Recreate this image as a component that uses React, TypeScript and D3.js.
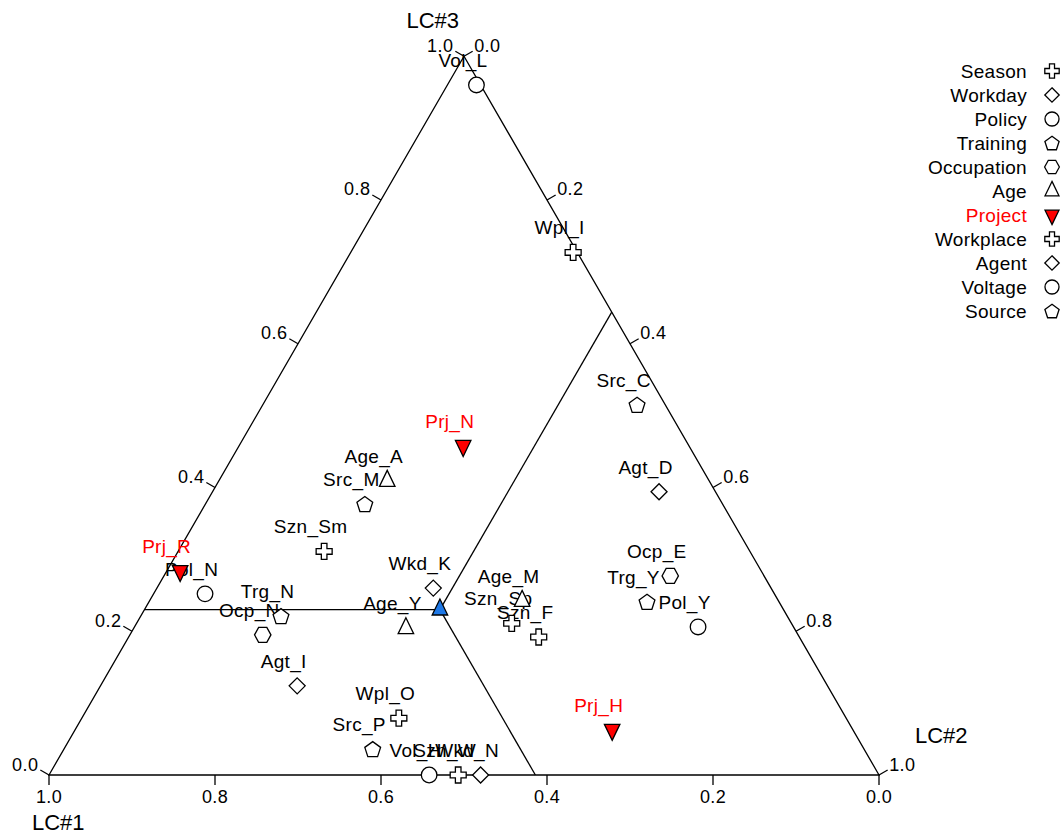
import React, { useEffect, useRef } from "react";
import * as d3 from "d3";

const WIDTH = 1063;
const HEIGHT = 835;
const ORIGIN = { X: 49, Y: 775 };
const SIDE = 830;
const FONT = "'Liberation Sans', Arial, Helvetica, sans-serif";

// legend categories and their marker shapes
const categories = [
  "Season",
  "Workday",
  "Policy",
  "Training",
  "Occupation",
  "Age",
  "Project",
  "Workplace",
  "Agent",
  "Voltage",
  "Source",
];
const categorySymbols = [
  "plus",
  "diamond",
  "circle",
  "pentagon",
  "hexagon",
  "triangle",
  "triangleDown",
  "plus",
  "diamond",
  "circle",
  "pentagon",
];

// points: label, category, LC#1, LC#2, LC#3
const pointLabels = [
  "Vol_L", "Wpl_I", "Src_C", "Agt_D", "Ocp_E", "Trg_Y", "Pol_Y", "Prj_H",
  "Prj_N", "Age_A", "Src_M", "Szn_Sm", "Pol_N", "Prj_R", "Trg_N", "Ocp_N",
  "Age_Y", "Wkd_K", "Age_M", "Szn_Sp", "Szn_F", "Agt_I", "Wpl_O", "Src_P",
  "Vol_H", "Szn_W", "Wkd_N",
];
const pointCategories = [
  "Voltage", "Workplace", "Source", "Agent", "Occupation", "Training", "Policy", "Project",
  "Project", "Age", "Source", "Season", "Policy", "Project", "Training", "Occupation",
  "Age", "Workday", "Age", "Season", "Season", "Agent", "Workplace", "Source",
  "Voltage", "Season", "Workday",
];
const lc1 = [
  0.005, 0.005, 0.034, 0.068, 0.113, 0.159, 0.115, 0.29,
  0.272, 0.388, 0.431, 0.513, 0.686, 0.70, 0.61, 0.645,
  0.468, 0.407, 0.309, 0.337, 0.314, 0.639, 0.539, 0.592,
  0.542, 0.507, 0.48,
];
const lc2 = [
  0.035, 0.268, 0.451, 0.538, 0.61, 0.60, 0.679, 0.647,
  0.27, 0.203, 0.192, 0.176, 0.062, 0.016, 0.169, 0.16,
  0.328, 0.333, 0.449, 0.452, 0.494, 0.237, 0.382, 0.372,
  0.458, 0.493, 0.52,
];
const lc3 = [
  0.96, 0.727, 0.515, 0.394, 0.277, 0.241, 0.206, 0.063,
  0.458, 0.409, 0.377, 0.311, 0.252, 0.284, 0.221, 0.195,
  0.204, 0.26, 0.242, 0.211, 0.192, 0.124, 0.079, 0.036,
  0, 0, 0,
];

// reference point where the three dividing lines meet
const centerPoint = [0.414, 0.356, 0.23];

const tickValues = [0, 0.2, 0.4, 0.6, 0.8, 1.0];

const side = d3.scaleLinear().domain([0, 1]).range([0, SIDE]);
const SQ3 = Math.sqrt(3);

const project = (a: number, b: number, c: number): [number, number] => [
  ORIGIN.X + side(b + c / 2),
  ORIGIN.Y - (side(c) * SQ3) / 2,
];

const poly = (pts: [number, number][]) => d3.line().curve(d3.curveLinearClosed)(pts) as string;

const symbolPath = (type: string, k: number): string => {
  if (type === "plus") {
    const r = 8 * k, w = 2.8 * k;
    return poly([
      [-w, -r], [w, -r], [w, -w], [r, -w], [r, w], [w, w],
      [w, r], [-w, r], [-w, w], [-r, w], [-r, -w], [-w, -w],
    ]);
  }
  if (type === "diamond") {
    const r = 8 * k;
    return poly([[0, -r], [r, 0], [0, r], [-r, 0]]);
  }
  if (type === "circle") {
    const r = 7.8 * k;
    return `M${r},0A${r},${r} 0 1,1 ${-r},0A${r},${r} 0 1,1 ${r},0Z`;
  }
  if (type === "pentagon") {
    const r = 8.3 * k;
    return poly(
      d3.range(5).map((i) => {
        const t = -Math.PI / 2 + (i * 2 * Math.PI) / 5;
        return [r * Math.cos(t), r * Math.sin(t) + 0.8 * k] as [number, number];
      })
    );
  }
  if (type === "hexagon") {
    const r = 8.2 * k;
    return poly(
      d3.range(6).map((i) => {
        const t = (i * Math.PI) / 3;
        return [r * Math.cos(t), r * Math.sin(t) * 1.05] as [number, number];
      })
    );
  }
  const w = 15.5 * k, h = 16 * k;
  if (type === "triangle") {
    return poly([[0, (-2 * h) / 3], [w / 2, h / 3], [-w / 2, h / 3]]);
  }
  return poly([[0, (2 * h) / 3], [w / 2, -h / 3], [-w / 2, -h / 3]]);
};

const App = () => {
  const ref = useRef<SVGSVGElement | null>(null);

  useEffect(() => {
    const svg = d3.select(ref.current);
    svg.selectAll("*").remove();

    const A = project(1, 0, 0);
    const B = project(0, 1, 0);
    const C = project(0, 0, 1);

    // triangle frame
    svg
      .append("path")
      .attr("d", poly([A, B, C]))
      .attr("fill", "none")
      .attr("stroke", "#000")
      .attr("stroke-width", 1.3);

    // dividing lines through the center point
    const [a0, b0, c0] = centerPoint;
    const P = project(a0, b0, c0);
    const ends = [project(1 - c0, 0, c0), project(a0, 1 - a0, 0), project(0, b0, 1 - b0)];
    ends.forEach((e) => {
      svg
        .append("line")
        .attr("x1", P[0])
        .attr("y1", P[1])
        .attr("x2", e[0])
        .attr("y2", e[1])
        .attr("stroke", "#000")
        .attr("stroke-width", 1.3);
    });

    // axes: bottom = LC#1, right = LC#2, left = LC#3
    const TL = 10;
    const axes = [
      { pos: (t: number) => project(t, 1 - t, 0), dir: [0, 1], anchor: "middle", dx: 0, dy: 18 },
      { pos: (t: number) => project(0, t, 1 - t), dir: [SQ3 / 2, -0.5], anchor: "start", dx: 1.5, dy: 0.5 },
      { pos: (t: number) => project(1 - t, 0, t), dir: [-SQ3 / 2, -0.5], anchor: "end", dx: -2, dy: 0.5 },
    ];
    axes.forEach((ax) => {
      tickValues.forEach((t) => {
        const p = ax.pos(t);
        const q: [number, number] = [p[0] + ax.dir[0] * TL, p[1] + ax.dir[1] * TL];
        svg
          .append("line")
          .attr("x1", p[0])
          .attr("y1", p[1])
          .attr("x2", q[0])
          .attr("y2", q[1])
          .attr("stroke", "#000")
          .attr("stroke-width", 1.3);
        svg
          .append("text")
          .attr("x", q[0] + ax.dx)
          .attr("y", q[1] + ax.dy)
          .attr("text-anchor", ax.anchor)
          .attr("font-family", FONT)
          .attr("font-size", 18)
          .attr("letter-spacing", 0.4)
          .text(d3.format(".1f")(t));
      });
    });

    const titles = [
      { text: "LC#1", x: 32, y: 830, anchor: "start" },
      { text: "LC#2", x: 915, y: 743, anchor: "start" },
      { text: "LC#3", x: 459, y: 28, anchor: "end" },
    ];
    titles.forEach((d) => {
      svg
        .append("text")
        .attr("x", d.x)
        .attr("y", d.y)
        .attr("text-anchor", d.anchor)
        .attr("font-family", FONT)
        .attr("font-size", 22)
        .text(d.text);
    });

    const pts = pointLabels.map((label, i) => {
      const [x, y] = project(lc1[i], lc2[i], lc3[i]);
      const cat = pointCategories[i];
      return { label, cat, x, y, sym: categorySymbols[categories.indexOf(cat)] };
    });

    // labels first, markers on top
    svg
      .selectAll("text.lbl")
      .data(pts)
      .enter()
      .append("text")
      .attr("class", "lbl")
      .attr("x", (d) => d.x - 13.5)
      .attr("y", (d) => d.y - 18)
      .attr("text-anchor", "middle")
      .attr("font-family", FONT)
      .attr("font-size", 19)
      .attr("letter-spacing", 0.3)
      .attr("fill", (d) => (d.cat === "Project" ? "#ff0000" : "#000"))
      .text((d) => d.label);

    svg
      .selectAll("path.mk")
      .data(pts)
      .enter()
      .append("path")
      .attr("class", "mk")
      .attr("transform", (d) => `translate(${d.x},${d.y})`)
      .attr("d", (d) => symbolPath(d.sym, 1))
      .attr("fill", (d) => (d.cat === "Project" ? "#ff0000" : "#fff"))
      .attr("stroke", "#000")
      .attr("stroke-width", 1.3);

    svg
      .append("path")
      .attr("transform", `translate(${P[0]},${P[1]})`)
      .attr("d", symbolPath("triangle", 1))
      .attr("fill", "#1e78e6")
      .attr("stroke", "#000")
      .attr("stroke-width", 1.3);

    // legend
    const legend = svg
      .selectAll("g.leg")
      .data(categories)
      .enter()
      .append("g")
      .attr("class", "leg")
      .attr("transform", (d, i) => `translate(0,${71 + i * 24})`);
    legend
      .append("text")
      .attr("x", 1027)
      .attr("y", 6.5)
      .attr("text-anchor", "end")
      .attr("font-family", FONT)
      .attr("font-size", 19)
      .attr("letter-spacing", 0.3)
      .attr("fill", (d) => (d === "Project" ? "#ff0000" : "#000"))
      .text((d) => d);
    legend
      .append("path")
      .attr("transform", "translate(1052,0)")
      .attr("d", (d, i) => symbolPath(categorySymbols[i], 0.9))
      .attr("fill", (d) => (d === "Project" ? "#ff0000" : "#fff"))
      .attr("stroke", "#000")
      .attr("stroke-width", 1.3);
  }, []);

  return (
    <svg
      ref={ref}
      width={WIDTH}
      height={HEIGHT}
      style={{ position: "absolute", left: 0, top: 0, background: "#fff" }}
    />
  );
};

export default App;
